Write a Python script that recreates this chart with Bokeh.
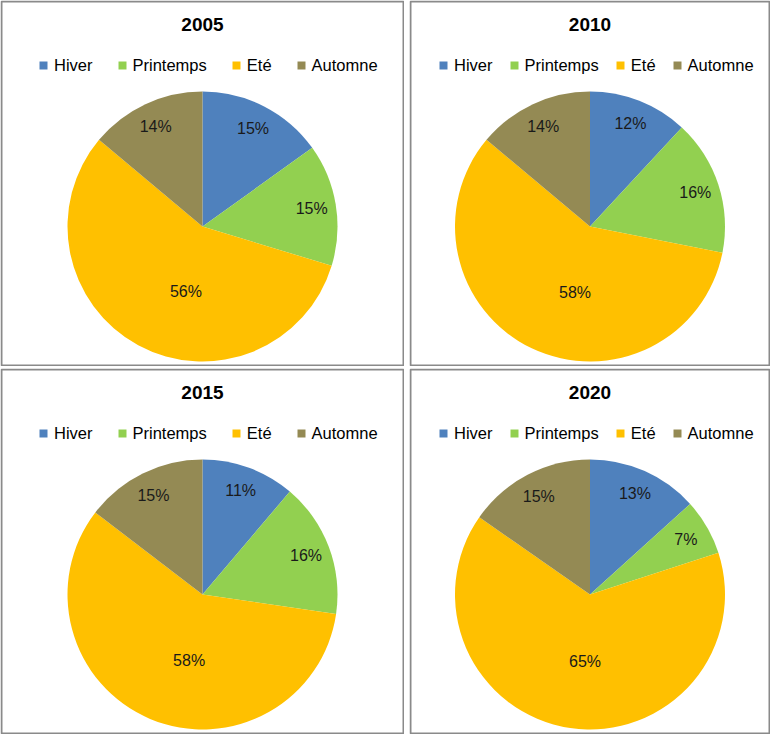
import math
from bokeh.plotting import figure
from bokeh.models import Range1d, Legend, LegendItem, ColumnDataSource
from bokeh.layouts import column, row
from bokeh.embed import file_html
from bokeh.resources import INLINE
from bokeh.core.properties import value

seasons = ["Hiver", "Printemps", "Eté", "Automne"]
years = ["2005", "2010", "2015", "2020"]
v2005 = [15.1, 14.6, 56.4, 13.9]
v2010 = [11.9, 16.2, 58.0, 13.9]
v2015 = [11.2, 16.1, 58.1, 14.6]
v2020 = [13.3, 6.7, 64.7, 15.3]
colors = ["#4F81BD", "#92D050", "#FFC000", "#948A54"]

FONT = "Liberation Sans"


def make_panel(title, vals, W, H, spacing, leg_x):
    p = figure(width=W, height=H, x_range=Range1d(0, W), y_range=Range1d(0, H),
               output_backend="svg", toolbar_location=None,
               x_axis_type=None, y_axis_type=None, min_border=0,
               outline_line_color=None, background_fill_color="white",
               border_fill_color="white")
    p.grid.visible = False
    cx = W / 2
    cy = H - 226
    r = 135
    total = sum(vals)
    fr = [v / total for v in vals]
    starts, ends = [], []
    c = 0.0
    for f in fr:
        starts.append(c)
        c += f
        ends.append(c)
    sa = [math.pi / 2 - s * 2 * math.pi for s in starts]
    ea = [math.pi / 2 - e * 2 * math.pi for e in ends]
    src = ColumnDataSource(dict(start=sa, end=ea, color=colors, season=seasons))
    wr = p.wedge(x=cx, y=cy, radius=r, start_angle="start", end_angle="end",
                 direction="clock", fill_color="color", line_color=None, source=src)

    lx, ly, lt = [], [], []
    for s, e, f in zip(starts, ends, fr):
        mid = (s + e) / 2 * 360
        if f > 0.5:
            mid = (mid + 180) / 2
            d = 0.5 * r
        else:
            d = 0.82 * r
        a = math.radians(mid)
        lx.append(cx + d * math.sin(a))
        ly.append(cy + d * math.cos(a))
        lt.append(f"{round(f * 100)}%")
    p.text(x=lx, y=ly, text=lt, text_align="center", text_baseline="middle",
           text_font=value(FONT), text_font_size="16px", text_color="#1a1a1a")
    p.text(x=[cx], y=[H - 24], text=[title], text_align="center", text_baseline="middle",
           text_font=value(FONT), text_font_size="19px", text_font_style="bold",
           text_color="#000000")
    p.quad(left=[1], right=[W - 1], bottom=[1], top=[H - 1], fill_color=None,
           line_color="#8a8a8a", line_width=2)

    legend = Legend(items=[LegendItem(label=s, renderers=[wr], index=i)
                           for i, s in enumerate(seasons)],
                    orientation="horizontal", location=(leg_x, H - 75),
                    spacing=spacing, padding=0, margin=0,
                    glyph_width=10, glyph_height=10, label_standoff=6,
                    label_height=20,
                    label_text_font=FONT, label_text_font_size="16.5px",
                    label_text_color="#000000",
                    border_line_color=None, background_fill_alpha=0)
    p.add_layout(legend)
    return p


W1, W2 = 404, 361
H1, H2 = 366, 366
p1 = make_panel(years[0], v2005, W1, H1, 24, 38)
p2 = make_panel(years[1], v2010, W2, H1, 16, 29)
p3 = make_panel(years[2], v2015, W1, H2, 24, 38)
p4 = make_panel(years[3], v2020, W2, H2, 16, 29)

layout = column(row(p1, p2, spacing=5), row(p3, p4, spacing=5), spacing=2)

open("out.html", "w").write(file_html(layout, INLINE))
